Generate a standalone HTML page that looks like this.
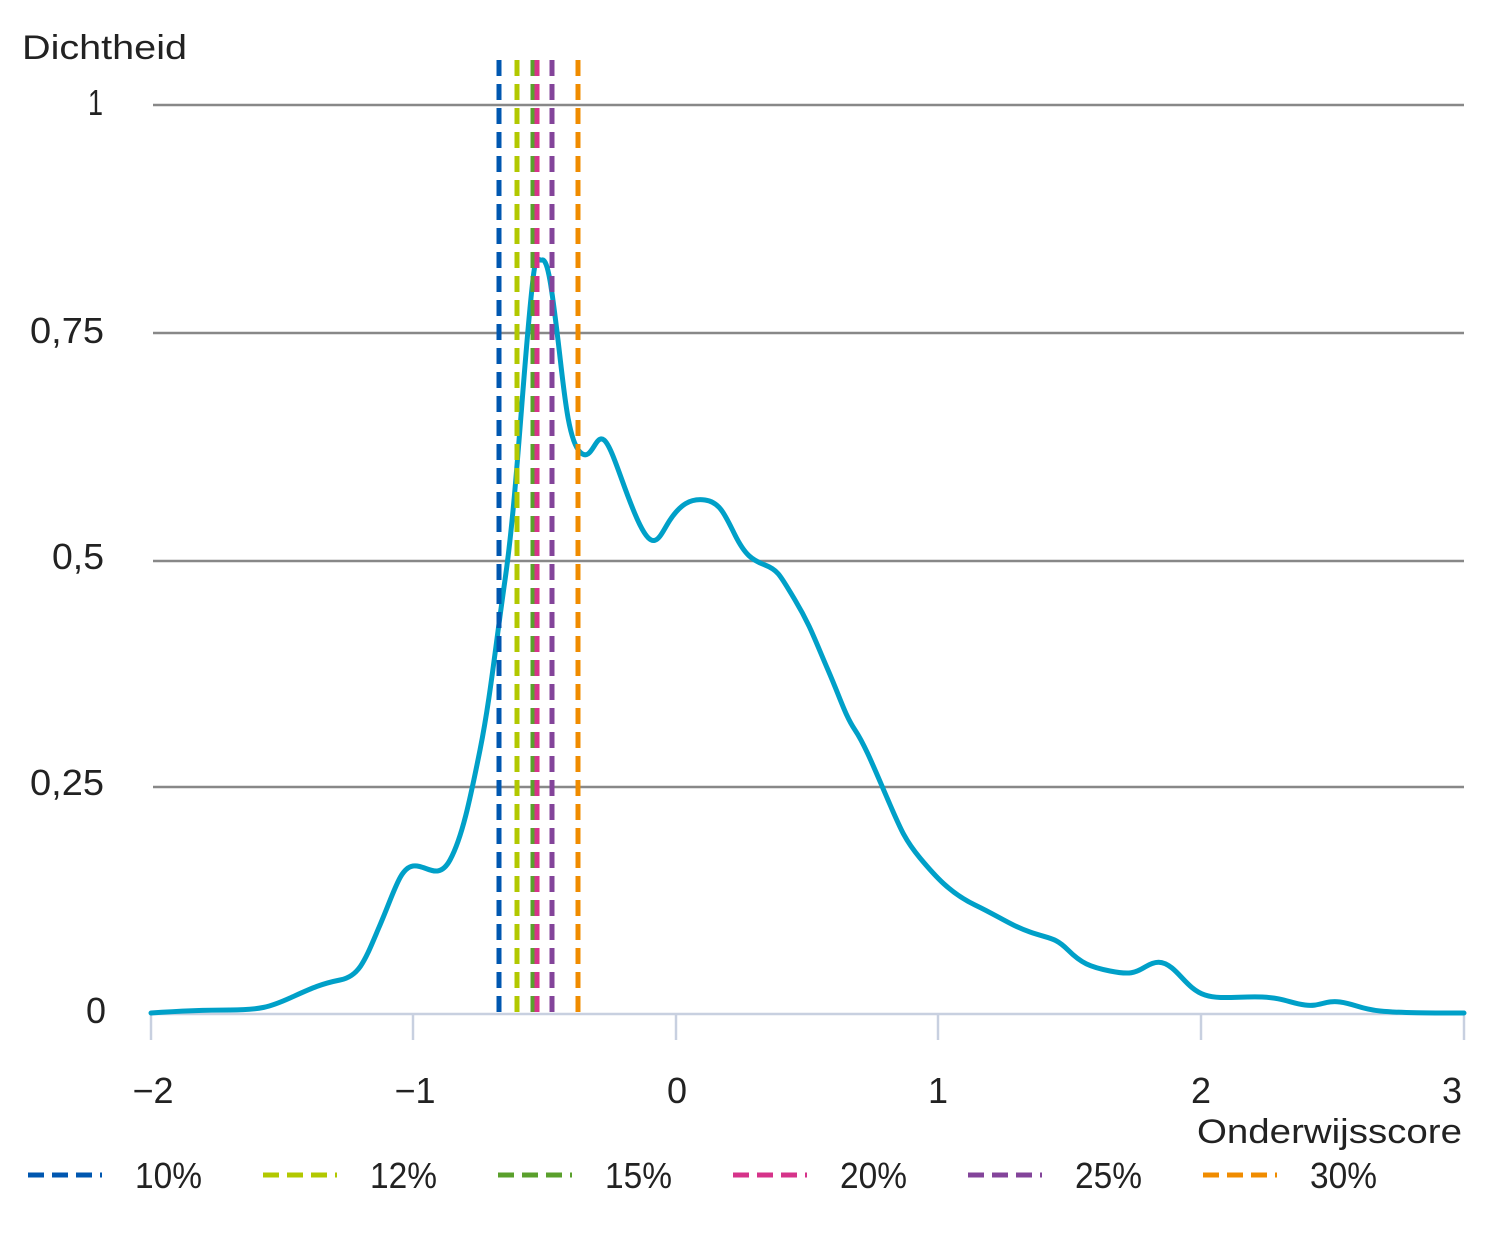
<!DOCTYPE html>
<html><head><meta charset="utf-8"><style>
body{margin:0;background:#fff}
svg{display:block}
text{font-family:"Liberation Sans",sans-serif;fill:#222}
</style></head><body>
<svg width="1492" height="1254" viewBox="0 0 1492 1254" xmlns="http://www.w3.org/2000/svg">
<g stroke="#888" stroke-width="2.5">
<line x1="153" y1="105" x2="1464" y2="105"/>
<line x1="153" y1="333" x2="1464" y2="333"/>
<line x1="153" y1="561" x2="1464" y2="561"/>
<line x1="153" y1="787" x2="1464" y2="787"/>
</g>
<g stroke="#c8d0e0" stroke-width="2.5">
<line x1="151" y1="1014" x2="1464" y2="1014"/>
<line x1="151" y1="1013" x2="151" y2="1040"/>
<line x1="413" y1="1013" x2="413" y2="1040"/>
<line x1="676" y1="1013" x2="676" y2="1040"/>
<line x1="938" y1="1013" x2="938" y2="1040"/>
<line x1="1201" y1="1013" x2="1201" y2="1040"/>
<line x1="1464" y1="1013" x2="1464" y2="1040"/>
</g>
<path fill="none" stroke="#00a0c8" stroke-width="5" stroke-linejoin="round" stroke-linecap="round"
d="M151,1013 C180,1011 200,1010 230,1010 S270,1007 290,998 S320,984 340,980 S365,960 380,925 S400,868 413,866 S438,882 450,860 S470,800 480,750 S495,650 505,580 S520,420 528,330 S536,262 542,260 S552,290 558,340 S568,440 580,452 S595,433 604,440 S625,495 640,525 S660,535 670,520 S690,498 705,500 S725,515 735,535 S752,560 765,565 S780,575 795,600 S815,640 828,670 S845,715 855,730 S875,770 888,800 S905,840 920,858 S950,893 975,905 S1010,925 1030,932 S1055,937 1068,950 S1090,967 1110,971 S1135,973 1145,967 S1162,960 1172,968 S1190,990 1205,995 S1240,996 1262,997 S1290,1003 1305,1005 S1325,1000 1340,1002 S1360,1009 1380,1011 S1430,1013 1464,1013"/>
<g stroke-width="5" stroke-dasharray="16 8">
<line x1="499" y1="60" x2="499" y2="1013" stroke="#0057b0"/>
<line x1="517" y1="60" x2="517" y2="1013" stroke="#b2c800"/>
<line x1="533" y1="60" x2="533" y2="1013" stroke="#5aa02c"/>
<line x1="537" y1="60" x2="537" y2="1013" stroke="#d6338a"/>
<line x1="552" y1="60" x2="552" y2="1013" stroke="#83449a"/>
<line x1="578" y1="60" x2="578" y2="1013" stroke="#f08c00"/>
</g>
<text x="22" y="59" font-size="34" fill="#111" textLength="165" lengthAdjust="spacingAndGlyphs">Dichtheid</text>
<g font-size="36">
<text x="88" y="115" textLength="15" lengthAdjust="spacingAndGlyphs">1</text>
<text x="30" y="343" textLength="74" lengthAdjust="spacingAndGlyphs">0,75</text>
<text x="52" y="569" textLength="52" lengthAdjust="spacingAndGlyphs">0,5</text>
<text x="30" y="795" textLength="74" lengthAdjust="spacingAndGlyphs">0,25</text>
<text x="86" y="1023" textLength="20" lengthAdjust="spacingAndGlyphs">0</text>
</g>
<g font-size="36" text-anchor="middle">
<text x="153" y="1103">−2</text>
<text x="415" y="1103">−1</text>
<text x="677" y="1103">0</text>
<text x="938" y="1103">1</text>
<text x="1201" y="1103">2</text>
<text x="1452" y="1103">3</text>
</g>
<text x="1197" y="1143" font-size="34" textLength="265" lengthAdjust="spacingAndGlyphs">Onderwijsscore</text>
<g stroke-width="5" stroke-dasharray="16 8">
<line x1="28" y1="1175" x2="102" y2="1175" stroke="#0057b0"/>
<line x1="263" y1="1175" x2="337" y2="1175" stroke="#b2c800"/>
<line x1="498" y1="1175" x2="572" y2="1175" stroke="#5aa02c"/>
<line x1="733" y1="1175" x2="807" y2="1175" stroke="#d6338a"/>
<line x1="968" y1="1175" x2="1042" y2="1175" stroke="#83449a"/>
<line x1="1203" y1="1175" x2="1277" y2="1175" stroke="#f08c00"/>
</g>
<g font-size="36">
<text x="135" y="1188" textLength="67" lengthAdjust="spacingAndGlyphs">10%</text>
<text x="370" y="1188" textLength="67" lengthAdjust="spacingAndGlyphs">12%</text>
<text x="605" y="1188" textLength="67" lengthAdjust="spacingAndGlyphs">15%</text>
<text x="840" y="1188" textLength="67" lengthAdjust="spacingAndGlyphs">20%</text>
<text x="1075" y="1188" textLength="67" lengthAdjust="spacingAndGlyphs">25%</text>
<text x="1310" y="1188" textLength="67" lengthAdjust="spacingAndGlyphs">30%</text>
</g>
</svg>
</body></html>
